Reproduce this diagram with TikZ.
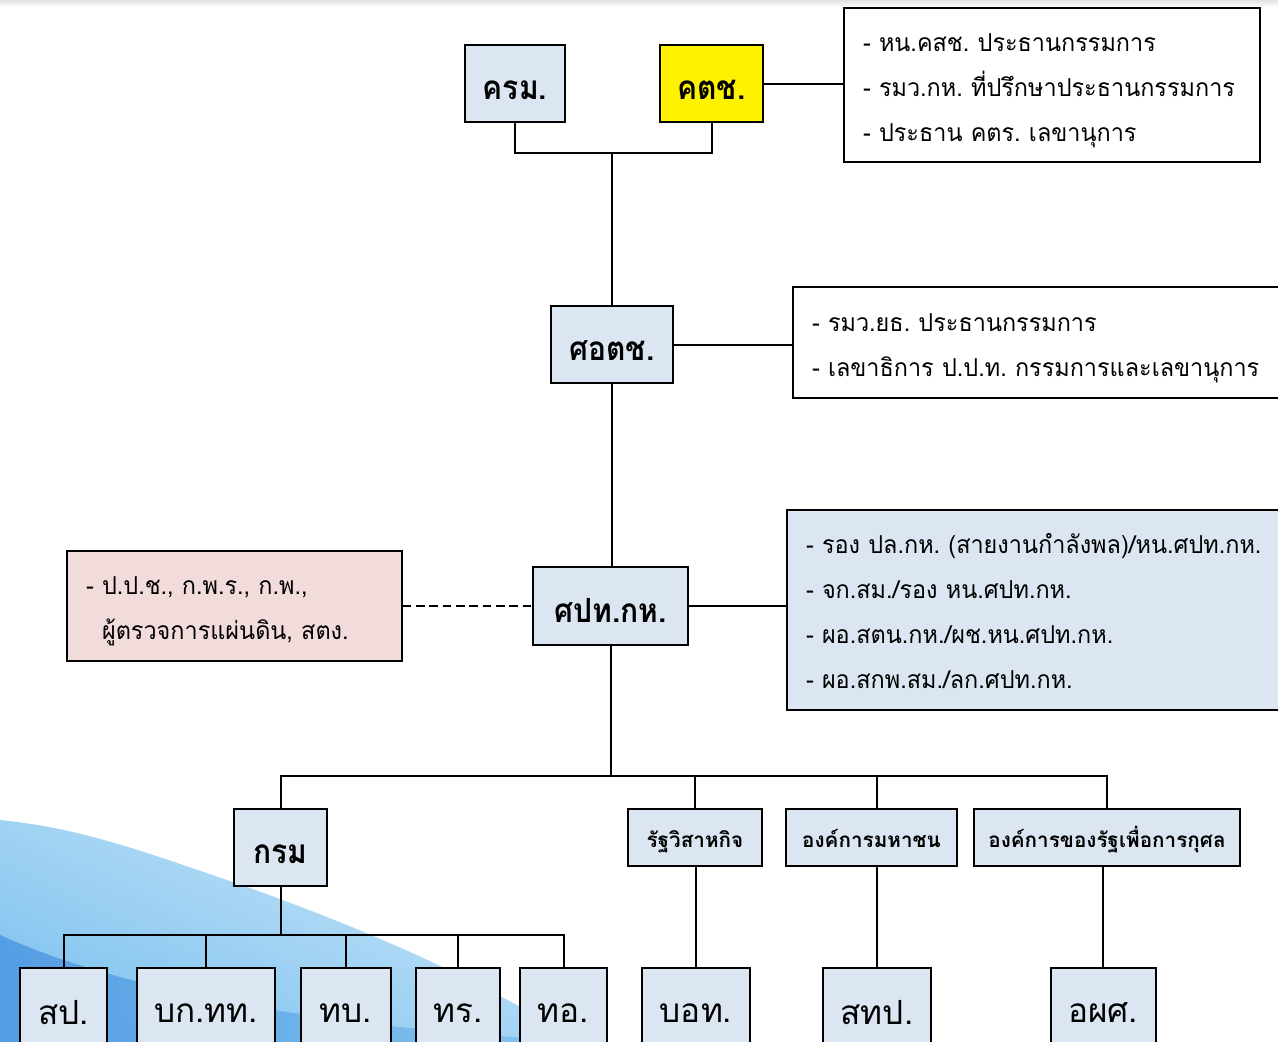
\documentclass[tikz,border=0pt]{standalone}
\usepackage{fontspec}
\usepackage{xcolor}
\usetikzlibrary{shadings}
\newfontfamily\thaifont[Script=Thai]{Loma}
\newfontfamily\thailist[Script=Thai,FakeStretch=0.95]{Loma}
\newfontfamily\thaihead[Script=Thai,FakeStretch=0.9]{Loma}
\definecolor{boxblu}{RGB}{220,230,242}
\definecolor{boxpink}{RGB}{242,220,219}
\definecolor{swlight}{RGB}{208,233,248}
\definecolor{swmid}{RGB}{130,196,240}
\definecolor{swdark}{RGB}{72,148,224}
\frenchspacing

\begin{document}
\begin{tikzpicture}[x=0.75pt,y=0.75pt,yscale=-1,xscale=1,
	unit/.style={draw, line width=1.5pt, fill=boxblu, inner sep=0pt, text height=24pt, text depth=0pt, font=\thaihead\bfseries\fontsize{25}{30}\selectfont},
	subunit/.style={unit, text height=15pt, font=\thaifont\bfseries\fontsize{15.5}{18}\selectfont},
	leaf/.style={draw, line width=1.5pt, fill=boxblu, inner sep=0pt, font=\thaifont\fontsize{25}{30}\selectfont},
	info/.style={draw, line width=1.2pt, fill=white, inner xsep=14.25pt, inner ysep=0pt, align=left, font=\thailist\fontsize{18.5}{33.75}\selectfont,
		execute at begin node={\rule{0pt}{24pt}}, execute at end node={\rule[-7pt]{0pt}{7pt}}},
	link/.style={line width=1.5pt}]
	\useasboundingbox (0,0) rectangle (1278,1042);

	% background swoosh
	\shade[top color=gray!22, bottom color=white] (0,0) rectangle (1278,7);
	\begin{scope}
		\clip (0,820) .. controls (80,828) and (140,850) .. (250,888) .. controls (380,935) and (480,980) .. (580,1042) -- (0,1042) -- cycle;
		\shade[shading=axis, top color=swlight, bottom color=swmid, shading angle=-25] (0,800) rectangle (640,1042);
		\shade[left color=swdark, right color=swmid, opacity=0.8] (0,935) .. controls (120,990) and (330,1030) .. (600,1042) -- (0,1042) -- cycle;
	\end{scope}

	% top level
	\node[unit, minimum width=75pt, minimum height=57.75pt] (krm) at (515,83.5) {ครม.};
	\node[unit, fill=yellow, minimum width=77.25pt, minimum height=57.75pt] (ktc) at (711.5,83.5) {คตช.};
	\node[info, text width=283.5pt, minimum height=115.5pt] (ktcinfo) at (1052,85) {- หน.คสช. ประธานกรรมการ\\- รมว.กห. ที่ปรึกษาประธานกรรมการ\\- ประธาน คตร. เลขานุการ};
	\coordinate (topjoin) at (612,153);

	% middle
	\node[unit, minimum width=91.5pt, minimum height=57.75pt] (sotc) at (612,344.5) {ศอตช.};
	\node[info, text width=343.5pt, minimum height=83.25pt] (sotcinfo) at (1041,342.5) {- รมว.ยธ. ประธานกรรมการ\\- เลขาธิการ ป.ป.ท. กรรมการและเลขานุการ};
	\node[unit, minimum width=116.25pt, minimum height=58.5pt] (spt) at (610.5,606) {ศปท.กห.};
	\node[info, fill=boxblu, text width=348.75pt, minimum height=150pt] (sptinfo) at (1038.5,610) {- รอง ปล.กห. (สายงานกำลังพล)/หน.ศปท.กห.\\- จก.สม./รอง หน.ศปท.กห.\\- ผอ.สตน.กห./ผช.หน.ศปท.กห.\\- ผอ.สกพ.สม./ลก.ศปท.กห.};
	\node[info, fill=boxpink, text width=222.75pt, minimum height=82.5pt] (outside) at (234.5,606) {- ป.ป.ช., ก.พ.ร., ก.พ.,\\\phantom{- }ผู้ตรวจการแผ่นดิน, สตง.};

	% second row
	\node[unit, minimum width=69.75pt, minimum height=57.75pt] (krom) at (280.5,847.5) {กรม};
	\node[subunit, minimum width=100.5pt, minimum height=42.75pt] (rat) at (695,837.5) {รัฐวิสาหกิจ};
	\node[subunit, minimum width=128.25pt, minimum height=42.75pt] (mahachon) at (871.5,837.5) {องค์การมหาชน};
	\node[subunit, minimum width=199.5pt, minimum height=42.75pt] (kusol) at (1107,837.5) {องค์การของรัฐเพื่อการกุศล};
	\coordinate (busL) at (280,776);

	% bottom row
	\node[leaf, minimum width=65.25pt, minimum height=67.5pt] (sp) at (63.5,1013) {สป.};
	\node[leaf, minimum width=103.5pt, minimum height=67.5pt] (bkt) at (206,1013) {บก.ทท.};
	\node[leaf, minimum width=67.5pt, minimum height=67.5pt] (tb) at (346,1013) {ทบ.};
	\node[leaf, minimum width=63pt, minimum height=67.5pt] (tr) at (458,1013) {ทร.};
	\node[leaf, minimum width=65.25pt, minimum height=67.5pt] (to) at (563.5,1013) {ทอ.};
	\node[leaf, minimum width=81pt, minimum height=67.5pt] (bot) at (696,1013) {บอท.};
	\node[leaf, minimum width=81pt, minimum height=67.5pt] (stp) at (877,1013) {สทป.};
	\node[leaf, minimum width=78.75pt, minimum height=67.5pt] (aps) at (1103,1013) {อผศ.};
	\coordinate (subbus) at (0,935);

	% connectors
	\draw[link] (krm.south) |- (topjoin) -| (ktc.south);
	\draw[link] (topjoin) -- (sotc.north);
	\draw[link] (ktc.east) -- (ktc.east -| ktcinfo.west);
	\draw[link] (sotc.east) -- (sotc.east -| sotcinfo.west);
	\draw[link] (sotc.south) -- (sotc.south |- spt.north);
	\draw[link] (spt.east) -- (spt.east -| sptinfo.west);
	\draw[link, dash pattern=on 6.5pt off 3.5pt] (outside.east) -- (spt.west);
	\draw[link] (spt.south) -- (spt.south |- busL);
	\draw[link] (krom.north) -- (krom.north |- busL) -- (kusol.north |- busL) -- (kusol.north);
	\draw[link] (rat.north) -- (rat.north |- busL);
	\draw[link] (stp.north |- mahachon.north) -- (stp.north |- busL);
	\draw[link] (bot.north) -- (bot.north |- rat.south);
	\draw[link] (stp.north) -- (stp.north |- mahachon.south);
	\draw[link] (aps.north) -- (aps.north |- kusol.south);
	\draw[link] (krom.south) -- (krom.south |- subbus);
	\draw[link] (sp.north) -- (sp.north |- subbus) -- (to.north |- subbus) -- (to.north);
	\foreach \n in {bkt, tb, tr}
		\draw[link] (\n.north) -- (\n.north |- subbus);
\end{tikzpicture}
\end{document}
